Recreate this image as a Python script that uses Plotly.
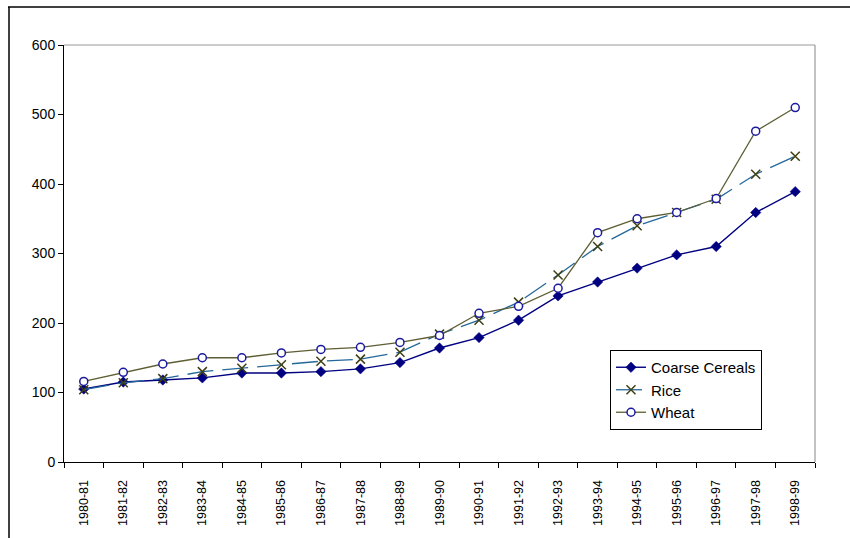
import plotly.graph_objects as go

# Index values by crop year
years = ["1980-81", "1981-82", "1982-83", "1983-84", "1984-85", "1985-86",
         "1986-87", "1987-88", "1988-89", "1989-90", "1990-91", "1991-92",
         "1992-93", "1993-94", "1994-95", "1995-96", "1996-97", "1997-98",
         "1998-99"]
coarse_cereals = [105, 115, 118, 121, 128, 128, 130, 134, 143, 164, 179, 204,
                  239, 259, 279, 298, 310, 359, 389]
rice = [104, 114, 120, 130, 135, 140, 145, 148, 158, 184, 204, 230, 269, 310,
        340, 359, 378, 414, 440]
wheat = [116, 129, 141, 150, 150, 157, 162, 165, 172, 182, 214, 224, 250, 330,
         350, 359, 379, 476, 510]
y_ticks = [0, 100, 200, 300, 400, 500, 600]

FONT = "Arial, 'Liberation Sans', sans-serif"
W, H = 850, 538
L, R, T, B = 64, 815, 45, 462  # plot area in pixels


def px(x):
    return (x - L) / (R - L)


def py(y):
    return (B - y) / (B - T)


fig = go.Figure()

fig.add_trace(go.Scatter(
    x=years, y=coarse_cereals, name="Coarse Cereals", mode="lines+markers",
    line=dict(color="#000080", width=1.4),
    marker=dict(symbol="diamond", size=8, color="#000080",
                line=dict(color="#000080", width=0.5)),
))
fig.add_trace(go.Scatter(
    x=years, y=rice, name="Rice", mode="lines+markers",
    line=dict(color="#24689A", width=1.3, dash="26px,9px"),
    marker=dict(symbol="x-thin", size=9, color="#3F3F14",
                line=dict(color="#3F3F14", width=1.5)),
))
fig.add_trace(go.Scatter(
    x=years, y=wheat, name="Wheat", mode="lines+markers",
    line=dict(color="#5E5E34", width=1.3),
    marker=dict(symbol="circle", size=8, color="white",
                line=dict(color="#1A1AA0", width=1.5)),
))

shapes = [
    # grey top and right edges of the plot area
    dict(type="line", xref="paper", yref="paper", x0=0, x1=1, y0=1, y1=1,
         line=dict(color="#9A9A9A", width=1.2), layer="below"),
    dict(type="line", xref="paper", yref="paper", x0=1, x1=1, y0=0, y1=1,
         line=dict(color="#9A9A9A", width=1.2), layer="below"),
    # outer chart frame (top and left edges)
    dict(type="line", xref="paper", yref="paper", x0=px(8), x1=px(851),
         y0=py(7), y1=py(7), line=dict(color="black", width=1.5)),
    dict(type="line", xref="paper", yref="paper", x0=px(9), x1=px(9),
         y0=py(7), y1=py(540), line=dict(color="black", width=1.5)),
]

fig.update_layout(
    width=W, height=H,
    margin=dict(l=L, r=W - R, t=T, b=H - B),
    paper_bgcolor="white", plot_bgcolor="white",
    font=dict(family=FONT, size=13, color="black"),
    showlegend=True,
    legend=dict(
        x=px(610), y=py(350), xanchor="left", yanchor="top",
        bordercolor="black", borderwidth=1, bgcolor="white",
        font=dict(family=FONT, size=15, color="black"),
        itemwidth=30, tracegroupgap=0,
    ),
    shapes=shapes,
    xaxis=dict(
        type="category", range=[-0.5, len(years) - 0.5],
        showline=True, linecolor="black", linewidth=1,
        ticks="outside", tickson="boundaries", ticklen=5, tickcolor="black",
        tickangle=-90, showgrid=False, zeroline=False,
        ticklabelstandoff=12, automargin=False,
        tickfont=dict(family=FONT, size=12.5, color="black"),
    ),
    yaxis=dict(
        range=[0, 600], tickvals=y_ticks, automargin=False,
        showline=True, linecolor="black", linewidth=1,
        ticks="outside", ticklen=5, tickcolor="black",
        showgrid=False, zeroline=False,
        tickfont=dict(family=FONT, size=14, color="black"),
    ),
)

fig.write_html("out.html")
